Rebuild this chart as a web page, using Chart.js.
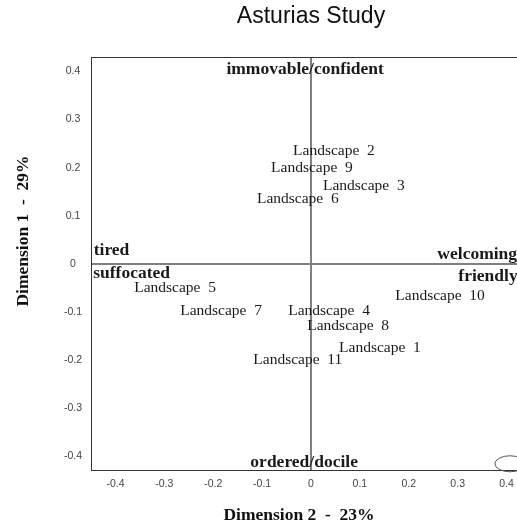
<!DOCTYPE html>
<html><head><meta charset="utf-8">
<script src="https://cdn.jsdelivr.net/npm/chart.js@4.4.1/dist/chart.umd.min.js"></script>
<style>
html,body{margin:0;padding:0;overflow:hidden;background:#fff;width:517px;height:525px}
#wrap{width:540px;height:525px}
canvas{display:block}
</style></head>
<body><div id="wrap"><canvas id="c" width="540" height="525"></canvas></div>
<script>
// ---- data ----
const landscapeLabels = ['Landscape  1','Landscape  2','Landscape  3','Landscape  4','Landscape  5','Landscape  6','Landscape  7','Landscape  8','Landscape  9','Landscape  10','Landscape  11'];
const landscapeDim2 = [0.141, 0.047, 0.108, 0.037, -0.278, -0.027, -0.184, 0.076, 0.002, 0.264, -0.027];
const landscapeDim1 = [-0.174, 0.235, 0.162, -0.098, -0.050, 0.135, -0.098, -0.129, 0.199, -0.066, -0.199];

const attributeLabels = ['immovable/confident','ordered/docile','tired','suffocated','welcoming','friendly'];
const attributeDim2 = [-0.012, -0.014, -0.408, -0.367, 0.340, 0.362];
const attributeDim1 = [0.405, -0.413, 0.029, -0.019, 0.019, -0.025];

const ellipseDim2 = [0.407];
const ellipseDim1 = [-0.415];

const xTickValues = [-0.4,-0.3,-0.2,-0.1,0,0.1,0.2,0.3,0.4];
const yTickValues = [-0.4,-0.3,-0.2,-0.1,0,0.1,0.2,0.3,0.4];

const chartTitle = 'Asturias Study';
const xTitle = 'Dimension 2  -  23%';
const yTitle = 'Dimension 1  -  29%';

// ---- helpers ----
const fmt = v => (v === 0 ? '0' : Number(v).toFixed(1));
const toPoints = (xs, ys) => xs.map((x, i) => ({x: x, y: ys[i]}));

const textLabels = {
  id: 'textLabels',
  afterDatasetsDraw(chart) {
    const ctx = chart.ctx;
    chart.data.datasets.forEach((ds, di) => {
      if (!ds.textLabels) return;
      const meta = chart.getDatasetMeta(di);
      ctx.save();
      ctx.font = ds.textFont;
      ctx.fillStyle = ds.textColor;
      ctx.textAlign = 'center';
      ctx.textBaseline = 'middle';
      meta.data.forEach((el, i) => ctx.fillText(ds.textLabels[i], el.x, el.y));
      ctx.restore();
    });
  }
};

const frame = {
  id: 'frame',
  afterDraw(chart) {
    const a = chart.chartArea, ctx = chart.ctx;
    ctx.save();
    ctx.strokeStyle = '#333';
    ctx.lineWidth = 1;
    ctx.strokeRect(Math.round(a.left) + 0.5, Math.round(a.top) + 0.5, Math.round(a.right - a.left), Math.round(a.bottom - a.top) - 1);
    // ellipse marker
    const xs = chart.scales.x, ys = chart.scales.y;
    ellipseDim2.forEach((v, i) => {
      ctx.beginPath();
      ctx.ellipse(xs.getPixelForValue(v), ys.getPixelForValue(ellipseDim1[i]), 15, 8, 0, 0, Math.PI * 2);
      ctx.strokeStyle = '#555';
      ctx.stroke();
    });
    // axis titles
    ctx.fillStyle = '#111';
    ctx.font = 'bold 17.5px "Liberation Serif"';
    ctx.textAlign = 'center';
    ctx.textBaseline = 'middle';
    ctx.fillText(xTitle, (a.left + a.right) / 2 - 12, 515);
    ctx.translate(23, (a.top + a.bottom) / 2 - 33);
    ctx.rotate(-Math.PI / 2);
    ctx.fillText(yTitle, 0, 0);
    ctx.restore();
  }
};

new Chart(document.getElementById('c'), {
  type: 'scatter',
  data: {
    datasets: [
      {
        data: toPoints(landscapeDim2, landscapeDim1),
        pointRadius: 0, pointHoverRadius: 0,
        textLabels: landscapeLabels,
        textFont: '15.5px "Liberation Serif"',
        textColor: '#1a1a1a'
      },
      {
        data: toPoints(attributeDim2, attributeDim1),
        pointRadius: 0, pointHoverRadius: 0,
        textLabels: attributeLabels,
        textFont: 'bold 17.5px "Liberation Serif"',
        textColor: '#1a1a1a'
      }
    ]
  },
  options: {
    responsive: false,
    animation: false,
    events: [],
    layout: {padding: {left: 0, right: 9, top: 0, bottom: 0}},
    plugins: {
      legend: {display: false},
      tooltip: {enabled: false},
      title: {
        display: true, text: chartTitle, fullSize: false,
        font: {family: '"Liberation Sans"', size: 23, weight: 'normal'},
        color: '#111',
        padding: {top: 3, bottom: 26.4}
      }
    },
    scales: {
      x: {
        type: 'linear', min: -0.45, max: 0.45,
        afterBuildTicks: s => { s.ticks = xTickValues.map(v => ({value: v})); },
        afterFit: s => { s.height = 54; },
        ticks: {
          callback: v => fmt(v), autoSkip: false, maxRotation: 0,
          font: {family: '"Liberation Sans"', size: 10.5}, color: '#444', padding: 7
        },
        grid: {
          drawTicks: false, lineWidth: 2,
          color: c => (c.tick && c.tick.value === 0 ? '#808080' : 'rgba(0,0,0,0)')
        },
        border: {display: false},
        title: {display: false}
      },
      y: {
        type: 'linear', min: -0.43, max: 0.43,
        afterBuildTicks: s => { s.ticks = yTickValues.map(v => ({value: v})); },
        afterFit: s => { s.width = 91; },
        ticks: {
          callback: v => fmt(v), autoSkip: false, crossAlign: 'center',
          font: {family: '"Liberation Sans"', size: 10.5}, color: '#444', padding: 9
        },
        grid: {
          drawTicks: false, lineWidth: 2,
          color: c => (c.tick && c.tick.value === 0 ? '#808080' : 'rgba(0,0,0,0)')
        },
        border: {display: false},
        title: {display: false}
      }
    }
  },
  plugins: [textLabels, frame]
});
</script>
</body></html>
